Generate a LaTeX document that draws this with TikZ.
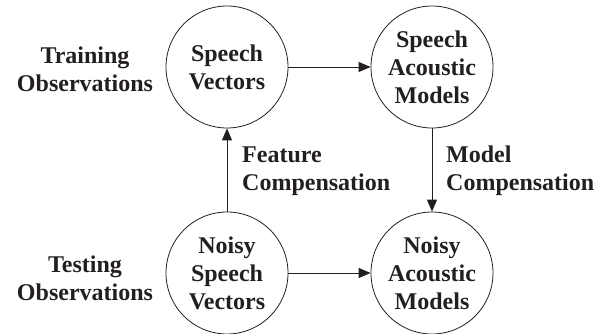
\documentclass[tikz,border=0pt]{standalone}
\usepackage{fontspec}
\setmainfont{Liberation Serif}
\usetikzlibrary{arrows.meta}
\definecolor{ink}{RGB}{35,31,32}
\begin{document}
\begin{tikzpicture}[x=1pt,y=-1pt,
  every node/.style={text=ink,font=\fontsize{24}{28}\selectfont\bfseries},
  state/.style={circle,draw=ink,line width=0.8pt,minimum size=122pt,inner sep=0pt,align=center},
  caption/.style={align=center,inner sep=0pt},
  sidenote/.style={align=left,inner sep=0pt,anchor=west},
  flow/.style={draw=ink,line width=0.8pt,-{Triangle[length=12pt,width=10pt]}}]
  \useasboundingbox (0,0) rectangle (600,334);
  % the four states
  \node[state] (sv) at (227,67) {Speech\\Vectors};
  \node[state] (sam) at (432,67) {Speech\\Acoustic\\Models};
  \node[state] (nsv) at (227,273) {Noisy\\Speech\\Vectors};
  \node[state] (nam) at (432,273) {Noisy\\Acoustic\\Models};
  % row labels
  \node[caption] (train) at (85,69) {Training\\Observations};
  \node[caption] (test) at (85,278) {Testing\\Observations};
  % compensation labels
  \node[sidenote] (feat) at (242,171) {Feature\\Compensation};
  \node[sidenote] (model) at (446,171) {Model\\Compensation};
  % connectors
  \draw[flow] (sv) -- (sam);
  \draw[flow] (nsv) -- (nam);
  \draw[flow] (nsv) -- (sv);
  \draw[flow] (sam) -- (nam);
\end{tikzpicture}
\end{document}
